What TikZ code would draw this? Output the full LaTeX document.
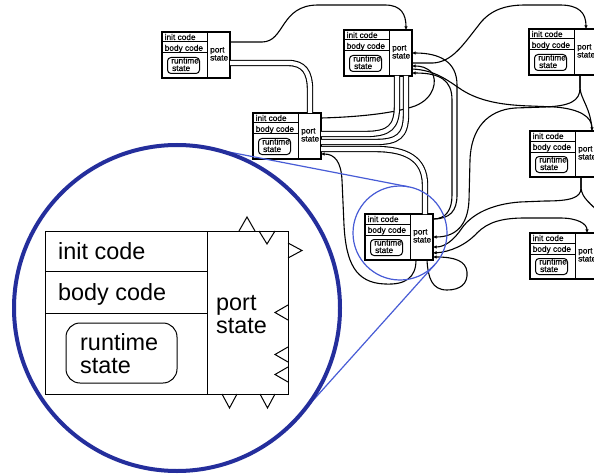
\documentclass[tikz,border=0pt]{standalone}
\usepackage{fontspec}
\setmainfont{Liberation Sans}
\newfontfamily\modfont[FakeBold=0.5]{Liberation Sans}
\usetikzlibrary{calc,arrows.meta}

\definecolor{lensblue}{RGB}{36,46,156}
\definecolor{spotblue}{RGB}{72,92,214}

\tikzset{
  wire/.style={line width=1.1pt, line join=round},
  cable/.style={line width=1.1pt, double=white, double distance=4.2pt, line join=round},
  intip/.style={-{Latex[length=3.6pt,width=3.6pt]}},
  bothtips/.style={{Latex[length=3.6pt,width=3.6pt]}-{Latex[length=3.6pt,width=3.6pt]}},
  modbox/.style={draw, fill=white, line width=1.2pt, minimum width=68pt, minimum height=46pt, inner sep=0pt, outer sep=0pt},
  modrule/.style={line width=1pt},
  rtbox/.style={draw, line width=1pt, rounded corners=3.5pt, minimum width=32pt, minimum height=16pt, inner sep=0pt, outer sep=0pt},
  smtext/.style={anchor=base west, inner sep=0pt, font=\modfont\fontsize{8.3}{8.3}\selectfont},
  bigbox/.style={draw, fill=white, line width=1pt, minimum width=243pt, minimum height=163pt, inner sep=0pt, outer sep=0pt},
  bigrule/.style={line width=0.9pt},
  bigtext/.style={anchor=base west, inner sep=0pt, font=\fontsize{23.4}{23}\selectfont},
  porttri/.style={line width=1pt, line join=miter},
  lens/.style={draw=lensblue, line width=4pt},
  spot/.style={draw=spotblue, line width=1.2pt},
  module/.pic={
    \node[modbox] (-box) at (34,23) {};
    \draw[modrule] (45,0) -- (45,46);
    \draw[modrule] (0,10) -- (45,10);
    \draw[modrule] (0,21) -- (45,21);
    \node[rtbox] (-rt) at (21.5,33.5) {};
    \node[smtext] (-l1) at (2.5,8) {init code};
    \node[smtext] (-l2) at (2.5,18.8) {body code};
    \node[smtext] (-l3) at (9,31.5) {runtime};
    \node[smtext] (-l4) at (10,39) {state};
    \node[smtext] (-l5) at (48,20.5) {port};
    \node[smtext] (-l6) at (48,28.5) {state};
    % port positions along the box
    \coordinate (-tl) at (57,0);
    \coordinate (-ti) at (62,0);
    \coordinate (-ro) at (68,5);
    \coordinate (-ra) at (68,10);
    \coordinate (-ri1) at (68,23);
    \coordinate (-ri2) at (68,33);
    \coordinate (-rc) at (68,36);
    \coordinate (-rd) at (68,39);
    \coordinate (-re) at (68,43);
    \coordinate (-bo1) at (51,46);
    \coordinate (-bo2) at (62,46);
  }
}

\begin{document}
\begin{tikzpicture}[x=1pt, y=-1pt]
\useasboundingbox (0,0) rectangle (594,476);
\fill[white] (0,0) rectangle (594,476);
\clip (0,0) rectangle (594,476);

% ---------- small modules ----------
\pic (m1) at (162,32) {module};
\pic (m2) at (344,30) {module};
\pic (m3) at (253,113) {module};
\pic (m4) at (365,214) {module};
\pic (m5) at (529,29) {module};
\pic (m6) at (530,131) {module};
\pic (m7) at (530,233) {module};

% ---------- single wires ----------
% m1 -> m2 over the top
\draw[wire,intip] (m1-ra) -- (262,42)
  .. controls (285,42) and (280,5) .. (318,5) -- (385,5)
  .. controls (401,5) and (406,14) .. (m2-ti);
% m3 output -> m2
\draw[wire,intip] (m3-ro) .. controls (360,117) and (395,113) .. (415,106)
  .. controls (435,98) and (437,80) .. (432,73)
  .. controls (427,67) and (420,66) .. (m2-rc);
% m2 -> m5
\draw[wire,intip] (m2-ri2) -- (433,63)
  .. controls (452,62) and (463,45) .. (478,26)
  .. controls (488,12) and (502,5) .. (525,5) -- (560,5)
  .. controls (579,5) and (586,13) .. (m5-tl);
% m2 -> m6
\draw[wire,intip] (m2-rd) .. controls (435,70) and (447,80) .. (462,90)
  .. controls (478,100) and (498,105) .. (530,106) -- (555,107)
  .. controls (580,109) and (592,117) .. (m6-ti);
% m4 output fanned out to two m2 inputs
\draw[wire,intip] (m4-ro) .. controls (450,219) and (457,211) .. (457,195)
  -- (457,85) .. controls (457,62) and (440,53) .. (m2-ri1);
\draw[wire,intip] (m4-ro) .. controls (446,219) and (452,210) .. (452,195)
  -- (452,100) .. controls (452,80) and (440,73) .. (m2-re);
% m5 -> m4 and m5 -> m6
\draw[wire,intip] (m5-bo1) -- (580,88)
  .. controls (580,101) and (570,106) .. (545,107) -- (515,108)
  .. controls (488,110) and (471,128) .. (470,160) -- (469,200)
  .. controls (468,226) and (455,237) .. (m4-ri1);
\draw[wire] (m5-bo1) -- (580,88) .. controls (581,100) and (591,108) .. (m6-ti);
% m6 -> m4 and m6 -> off to the right
\draw[wire,intip] (m6-bo1) -- (581,188)
  .. controls (581,198) and (570,201) .. (545,201) -- (520,202)
  .. controls (492,204) and (472,214) .. (462,228)
  .. controls (454,240) and (445,247) .. (m4-ri2);
\coordinate (offright) at (600,214);
\draw[wire] (m6-bo1) -- (581,188) .. controls (582,199) and (592,204) .. (offright);
% m4 <-> m7
\draw[wire,bothtips] (m4-rd) .. controls (450,252) and (466,245) .. (477,233)
  .. controls (488,222) and (502,218) .. (525,218) -- (560,218)
  .. controls (578,218) and (587,224) .. (m7-tl);
% m4 self loop
\draw[wire,intip] (m4-bo2) .. controls (428,278) and (432,290) .. (447,290)
  .. controls (460,290) and (468,284) .. (467,272)
  .. controls (466,261) and (455,257) .. (m4-re);
% m4 bottom -> around the left -> m3
\draw[wire,intip] (m4-bo1) .. controls (416,278) and (405,285) .. (385,284)
  .. controls (355,283) and (346,262) .. (344,225) -- (342,180)
  .. controls (341,162) and (335,154) .. ($(m3-box.north east)+(0,41)$);

% ---------- cables ----------
\draw[cable] ($(m1-box.north east)+(0,31)$) -- (288,63) .. controls (304,63) and (310,72) .. (310,90) -- ($(m3-box.north west)+(57,0)$);
\draw[cable] ($(m2-box.south west)+(53,0)$) -- (397,105) .. controls (397,127) and (390,134) .. (365,134) -- ($(m3-box.north east)+(0,21)$);
\draw[cable] (m2-bo2) -- (406,114) .. controls (406,136) and (398,142) .. (375,142) -- ($(m3-box.north east)+(0,29)$);
\draw[cable] ($(m3-box.north east)+(0,36)$) -- (375,149) .. controls (405,149) and (425,158) .. (425,185) -- ($(m4-box.north west)+(60,0)$);

% ---------- enlarged module ----------
\node[bigbox] (big) at (166.5,312.5) {};
\draw[bigrule] (207,231) -- (207,394);
\draw[bigrule] (45,271) -- (207,271);
\draw[bigrule] (45,313) -- (207,313);
\node[draw, line width=1pt, rounded corners=14pt, minimum width=111pt, minimum height=60pt, inner sep=0pt] (bigrt) at (121.5,353) {};
\node[bigtext] (tinit) at (58,259) {init code};
\node[bigtext] (tbody) at (58,300) {body code};
\node[bigtext] (trun) at (80,350) {runtime};
\node[bigtext] (tstate) at (80,373) {state};
\node[bigtext] (tport) at (216,310) {port};
\node[bigtext] (tpstate) at (216,333) {state};
% port markers
\draw[porttri] (239,231) -- (247,217) -- (255,231);
\draw[porttri] (259,231) -- (267,244) -- (275,231);
\draw[porttri] (288,243) -- (302,250.5) -- (288,258);
\draw[porttri] (288,305) -- (275,312.5) -- (288,320);
\draw[porttri] (288,347) -- (275,354.5) -- (288,362);
\draw[porttri] (288,367) -- (275,374.5) -- (288,382);
\draw[porttri] (222,394) -- (229.5,408) -- (237,394);
\draw[porttri] (260,394) -- (267.5,408) -- (275,394);

% ---------- magnifier ----------
\coordinate (lensc) at (177,308);
\coordinate (spotc) at (400,233);
\draw[spot] ($(lensc)+(-79:163)$) -- ($(spotc)+(-79:47)$);
\draw[spot] ($(lensc)+(41.9:163)$) -- ($(spotc)+(41.9:47)$);
\draw[spot] (spotc) circle[radius=47];
\draw[lens] (lensc) circle[radius=163];
\end{tikzpicture}
\end{document}
